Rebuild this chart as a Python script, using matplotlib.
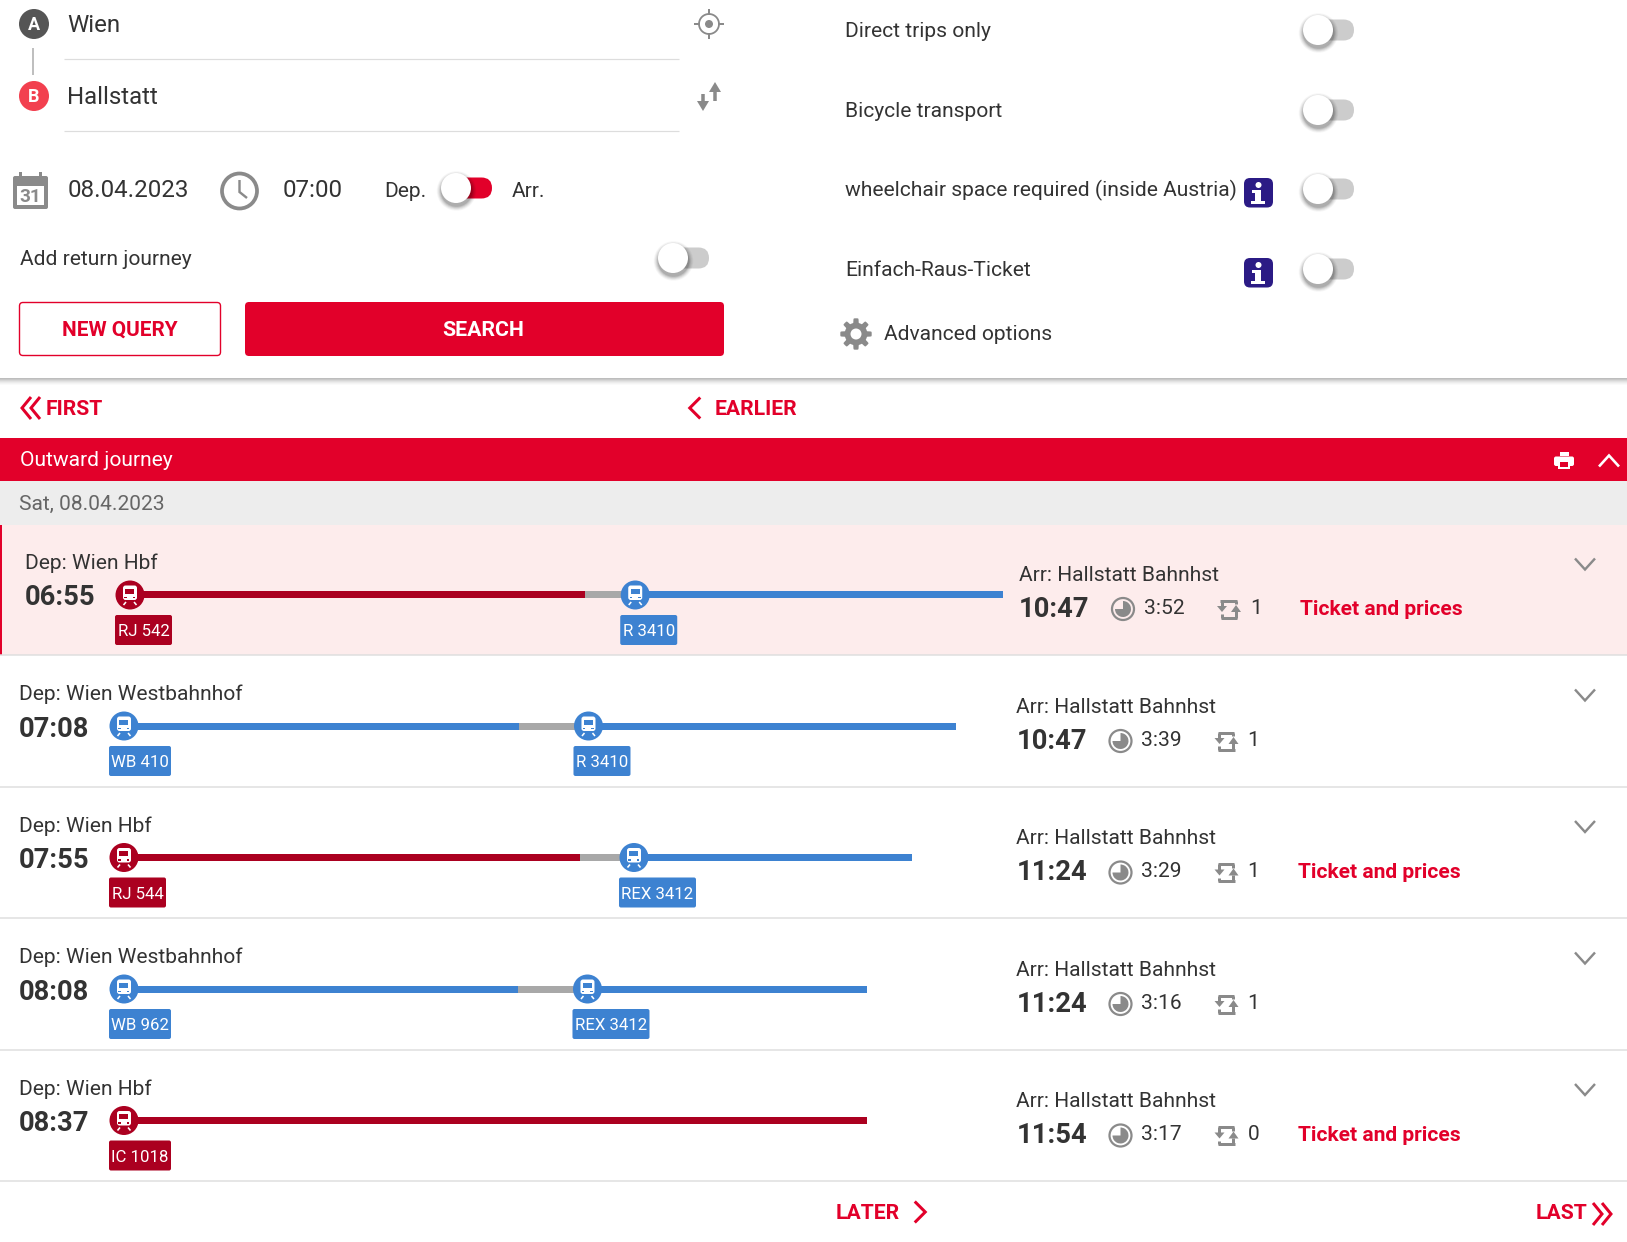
import numpy as np
import matplotlib
matplotlib.use("Agg")
import matplotlib.pyplot as plt
from matplotlib.patches import Circle, FancyBboxPatch, Polygon, Rectangle, Wedge

W, H = 1627, 1242

# ---- content -------------------------------------------------------------
origin = "Wien"
destination = "Hallstatt"
query_date = "08.04.2023"
query_time = "07:00"
option_labels = ["Direct trips only", "Bicycle transport",
                 "wheelchair space required (inside Austria)", "Einfach-Raus-Ticket"]
option_info = [False, False, True, True]
date_label = "Sat, 08.04.2023"

dep_stations = ["Wien Hbf", "Wien Westbahnhof", "Wien Hbf", "Wien Westbahnhof", "Wien Hbf"]
dep_times = ["06:55", "07:08", "07:55", "08:08", "08:37"]
arr_times = ["10:47", "10:47", "11:24", "11:24", "11:54"]
durations = ["3:52", "3:39", "3:29", "3:16", "3:17"]
changes = [1, 1, 1, 1, 0]
has_ticket = [True, False, True, False, True]
# each leg: train, start, end, kind
legs = [
    [("RJ 542", "06:55", "08:56", "rail"), ("R 3410", "09:09", "10:47", "regional")],
    [("WB 410", "07:08", "08:52", "regional"), ("R 3410", "09:10", "10:47", "regional")],
    [("RJ 544", "07:55", "09:56", "rail"), ("REX 3412", "10:10", "11:24", "regional")],
    [("WB 962", "08:08", "09:52", "regional"), ("REX 3412", "10:10", "11:24", "regional")],
    [("IC 1018", "08:37", "11:54", "rail")],
]

# ---- style / layout -------------------------------------------------------
RED = "#E2002A"
DARKRED = "#AB0020"
BLUE = "#3D82D1"
GREYBAR = "#A8A8A8"
TEXT = "#333333"
ICON = "#8A8A8A"
INDIGO = "#2B1B85"
FONT = "Roboto"
ROW_STEP = 131.5
bar_x0 = [130, 124, 124, 124, 124]
bar_x1 = [1003, 956, 912, 867, 867]
badge_w = {"RJ 542": 57, "R 3410": 57, "WB 410": 62, "RJ 544": 57, "REX 3412": 77,
           "WB 962": 62, "IC 1018": 62}

fig = plt.figure(figsize=(W / 100, H / 100), dpi=100, facecolor="white")


def page_axes(z):
    a = fig.add_axes([0, 0, 1, 1])
    a.set_xlim(0, W)
    a.set_ylim(H, 0)
    a.axis("off")
    a.patch.set_alpha(0)
    a.set_zorder(z)
    return a


ax = page_axes(0)
ax_top = page_axes(1)


def txt(x, yc, s, px, color=TEXT, weight="normal", ha="left", z=5):
    return ax.text(x, yc + 0.32 * px, s, fontsize=px * 0.72, color=color,
                   fontweight=weight, ha=ha, va="baseline", family=FONT, zorder=z)


def rect(x0, y0, x1, y1, color, z=1):
    ax.add_patch(Rectangle((x0, y0), x1 - x0, y1 - y0, fc=color, ec="none", zorder=z))


def rrect(x0, y0, x1, y1, r, fc, ec="none", lw=0, z=2):
    ax.add_patch(FancyBboxPatch((x0 + r, y0 + r), x1 - x0 - 2 * r, y1 - y0 - 2 * r,
                                boxstyle=f"round,pad={r},rounding_size={r}",
                                fc=fc, ec=ec, lw=lw, zorder=z))


def line(xs, ys, color, lw, z=4, cap="butt", join="miter"):
    ax.plot(xs, ys, color=color, lw=lw * 0.72, solid_capstyle=cap, solid_joinstyle=join, zorder=z)


def chevron(x, y, direction, size, color, lw):
    if direction == "down":
        line([x - size, x, x + size], [y - size * .55, y + size * .55, y - size * .55], color, lw)
    elif direction == "up":
        line([x - size, x, x + size], [y + size * .55, y - size * .55, y + size * .55], color, lw)
    elif direction == "left":
        line([x + size * .5, x - size * .5, x + size * .5], [y - size, y, y + size], color, lw)
    else:
        line([x - size * .5, x + size * .5, x - size * .5], [y - size, y, y + size], color, lw)


def toggle(xk, y, on=False):
    x1 = xk + 36
    rrect(xk, y - 10.5, x1, y + 10.5, 10.5, RED if on else "#CCCCCC", z=3)
    for i, al in zip(range(6, 0, -1), [.03, .04, .05, .06, .08, .10]):
        ax.add_patch(Circle((xk + 0.5, y + 3), 15 + i * .8, fc="black", ec="none", alpha=al, zorder=3.1))
    ax.add_patch(Circle((xk, y), 15, fc="white", ec="none", zorder=3.2))


def info(x0, y0):
    rrect(x0, y0, x0 + 29, y0 + 29.5, 6, INDIGO, z=3)
    xc = x0 + 14.5
    ax.add_patch(Circle((xc, y0 + 7), 3, fc="white", ec="none", zorder=4))
    rect(xc - 6, y0 + 12, xc + 3, y0 + 15, "white", 4)
    rect(xc - 3, y0 + 12, xc + 3, y0 + 24, "white", 4)
    rect(xc - 7, y0 + 23, xc + 7, y0 + 26, "white", 4)


def train(xc, yc, color):
    ax.add_patch(Circle((xc, yc), 14.5, fc=color, ec="none", zorder=6))
    rrect(xc - 7, yc - 9.5, xc + 7, yc + 5, 2.5, "white", z=7)
    rect(xc - 4.5, yc - 6.5, xc + 4.5, yc - 1.5, color, 8)
    line([xc - 4, xc - 6.5], [yc + 7, yc + 10], "white", 1.6, z=7)
    line([xc + 4, xc + 6.5], [yc + 7, yc + 10], "white", 1.6, z=7)
    rect(xc - 5.5, yc + 1.5, xc - 3, yc + 3, color, 8)
    rect(xc + 3, yc + 1.5, xc + 5.5, yc + 3, color, 8)


def clock_small(xc, yc):
    ax.add_patch(Circle((xc, yc), 11, fc="none", ec=ICON, lw=1.6, zorder=4))
    ax.add_patch(Wedge((xc, yc), 8, -90, 180, fc=ICON, ec="none", zorder=4))


def transfer(xc, yc):
    line([xc - 8.5, xc + 8], [yc - 8.5, yc - 8.5], ICON, 3)
    line([xc - 7, xc - 7], [yc - 8.5, yc - 2], ICON, 3)
    line([xc + 7, xc + 7], [yc - 8.5, yc - 5], ICON, 3)
    ax.add_patch(Polygon([[xc - 12, yc - 3], [xc - 2, yc - 3], [xc - 7, yc + 3]], fc=ICON, ec="none", zorder=4))
    line([xc - 8, xc + 8.5], [yc + 8.5, yc + 8.5], ICON, 3)
    line([xc + 7, xc + 7], [yc + 8.5, yc + 2], ICON, 3)
    line([xc - 7, xc - 7], [yc + 8.5, yc + 5], ICON, 3)
    ax.add_patch(Polygon([[xc + 2, yc + 3], [xc + 12, yc + 3], [xc + 7, yc - 4]], fc=ICON, ec="none", zorder=4))


def double_chevron(x, y, direction, color):
    d = 1 if direction == "right" else -1
    for off in (-4.5, 4.5):
        line([x + off - d * 4.5, x + off + d * 4.5, x + off - d * 4.5], [y - 11, y, y + 11], color, 3)


# ---- top form -------------------------------------------------------------
line([33, 33], [48, 75], "#AAAAAA", 1.5)
ax.add_patch(Circle((34, 24), 15, fc="#555555", ec="none", zorder=3))
txt(34, 24.5, "A", 18, "white", "bold", "center")
ax.add_patch(Circle((34, 96), 15, fc="#F2404F", ec="none", zorder=3))
txt(34, 96.5, "B", 18, "white", "bold", "center")
txt(67, 24, origin, 24)
txt(67, 96, destination, 24)
for y in (59, 131):
    line([64, 679], [y, y], "#DDDDDD", 1.2)
# locate
ax.add_patch(Circle((709, 24), 10, fc="none", ec=ICON, lw=1.3, zorder=4))
ax.add_patch(Circle((709, 24), 4, fc=ICON, ec="none", zorder=4))
line([709, 709], [9, 15], ICON, 2)
line([709, 709], [33, 39], ICON, 2)
line([694, 700], [24, 24], ICON, 2)
line([718, 724], [24, 24], ICON, 2)
# swap
line([715, 715], [88, 101], ICON, 3.5)
ax.add_patch(Polygon([[709, 92], [721, 92], [715, 82]], fc=ICON, ec="none", zorder=4))
line([703, 703], [94, 104], ICON, 3.5)
ax.add_patch(Polygon([[697, 101], [709, 101], [703, 111]], fc=ICON, ec="none", zorder=4))
# calendar
rrect(13, 176, 48, 209, 2, ICON, z=3)
rect(17, 186, 44, 205, "white", 4)
rect(19, 172, 22, 180, ICON, 3)
rect(39, 172, 42, 180, ICON, 3)
txt(30.5, 196, "31", 19, ICON, "bold", "center")
txt(68, 189, query_date, 24.1)
# clock
ax.add_patch(Circle((239.5, 191), 17.5, fc="none", ec=ICON, lw=2.7, zorder=4))
line([239.5, 239.5, 247], [180, 192, 198], ICON, 2.4)
txt(283, 189, query_time, 24.1)
txt(384.5, 190, "Dep.", 21)
toggle(456, 188, on=True)
txt(512, 190, "Arr.", 21)
txt(20, 258, "Add return journey", 21)
toggle(673, 258)
rrect(19.5, 302.5, 220.5, 355.5, 3.5, "white", RED, 1.0)
txt(120, 328.5, "NEW QUERY", 20.8, RED, "bold", "center")
rrect(245, 302, 724, 356, 4, RED)
txt(483.5, 329.5, "SEARCH", 21.3, "white", "bold", "center")

# ---- options --------------------------------------------------------------
for y, lab, has_i in zip((30, 110, 190, 269), option_labels, option_info):
    txt(845, y, lab, 20.95)
    toggle(1318, 189 if y == 190 else y)
    if has_i:
        info(1244, (189 if y == 190 else y) - 11)
# gear
th = np.linspace(0, 2 * np.pi, 8 * 24, endpoint=False)
rg = 13.5 + 2.2 * np.clip(3 * np.cos(8 * th), -1, 1)
ax.add_patch(Polygon(np.c_[856 + rg * np.cos(th), 334 + rg * np.sin(th)], fc=ICON, ec="none", zorder=4))
ax.add_patch(Circle((856, 334), 5.5, fc="white", ec="none", zorder=5))
txt(884, 333, "Advanced options", 20.95)

# page shadow
for i, c in enumerate(["#BDBDBD", "#C8C8C8", "#D6D6D6", "#E2E2E2", "#ECECEC", "#F4F4F4", "#FAFAFA"]):
    rect(0, 377.5 + i, W, 378.5 + i, c)

# ---- navigation -----------------------------------------------------------
double_chevron(31, 408, "left", RED)
txt(46, 408, "FIRST", 21.2, RED, "bold")
chevron(695, 408, "left", 10.5, RED, 3)
txt(715, 408, "EARLIER", 21.2, RED, "bold")
txt(836, 1212, "LATER", 21.2, RED, "bold")
chevron(920, 1212, "right", 10.5, RED, 3)
txt(1536, 1212, "LAST", 21.2, RED, "bold")
double_chevron(1602, 1214, "right", RED)

# ---- header ---------------------------------------------------------------
rect(0, 438, W, 481, RED)
txt(20, 459.5, "Outward journey", 20.95, "white")
rect(0, 481, W, 525, "#EDEDED")
txt(19, 503, date_label, 20.95, "#666666")
# printer
rect(1560, 452, 1569, 456, "white", 3)
rrect(1554, 456.5, 1574, 466, 2, "white", z=3)
rect(1558, 461, 1570.5, 469, "white", 4)
rect(1560.5, 462, 1568, 466.5, RED, 5)
chevron(1609, 461, "up", 10, "white", 2.6)

rect(0, 525, W, 655, "#FDECEC", 0.5)
rect(0, 525, 2, 655, RED, 1)


def minutes(t):
    h, m = t.split(":")
    return int(h) * 60 + int(m)


# ---- journeys (drawn above the time-line axes) -----------------------------
ax = ax_top
for i in range(5):
    yshift = ROW_STEP * (i - 1) if i else -131
    first = i == 0
    sep = 655 + ROW_STEP * i
    line([0, W], [sep, sep], "#DEDEDE", 1.5, z=1)
    xl = 25 if first else 19
    arrx = 1019 if first else 1016.5
    tkx = 1300.5 if first else 1298
    dep_y = 693.5 + yshift
    time_y = (727 if first else 728) + yshift
    bar_y = 726 + yshift
    badge_y = 746 + yshift
    arr_y = (705 if first else 706) + yshift
    atime_y = (739 if first else 740) + yshift
    txt(xl, dep_y, "Dep: " + dep_stations[i], 20.95)
    txt(xl, time_y, dep_times[i], 27.4, TEXT, "bold")

    # time line: own axes whose x scale is minutes of the journey
    t0 = minutes(dep_times[i])
    t1 = minutes(arr_times[i])
    x0, x1 = bar_x0[i], bar_x1[i]
    tax = fig.add_axes([x0 / W, 1 - (bar_y + 4) / H, (x1 - x0) / W, 8 / H])
    tax.set_xlim(0, t1 - t0)
    tax.set_ylim(-1, 1)
    tax.axis("off")
    tax.patch.set_alpha(0)
    tax.set_zorder(0.5)
    prev_end = None
    for k, (name, s, e, kind) in enumerate(legs[i]):
        col = DARKRED if kind == "rail" else BLUE
        ms, me = minutes(s) - t0, minutes(e) - t0
        if prev_end is not None:
            tax.barh(0, ms - prev_end, left=prev_end, height=1.75, color=GREYBAR, linewidth=0)
        tax.barh(0, me - ms, left=ms, height=1.75, color=col, linewidth=0)
        prev_end = me
        xc = x0 + ms * (x1 - x0) / (t1 - t0) + (1 if k else 0)
        train(xc, bar_y, col)
        bx0 = xc - 15
        bw = badge_w[name]
        rrect(bx0, badge_y, bx0 + bw, badge_y + 30, 2, col, z=3)
        txt(bx0 + bw / 2, badge_y + 16, name, 16.7, "white", ha="center")

    txt(arrx, arr_y, "Arr: Hallstatt Bahnhst", 20.95)
    txt(arrx, atime_y, arr_times[i], 27.4, TEXT, "bold")
    clock_small(arrx + 104, atime_y + 1)
    txt(arrx + 125, atime_y - 1, durations[i], 20.95)
    transfer(arrx + 210, atime_y + 1)
    txt(arrx + 231, atime_y - 1, str(changes[i]), 20.95)
    if has_ticket[i]:
        txt(tkx, atime_y, "Ticket and prices", 20.95, RED, "bold")
    chevron(1585, 695 + yshift, "down", 10, ICON, 2.4)

fig.savefig("out.png", dpi=100)
